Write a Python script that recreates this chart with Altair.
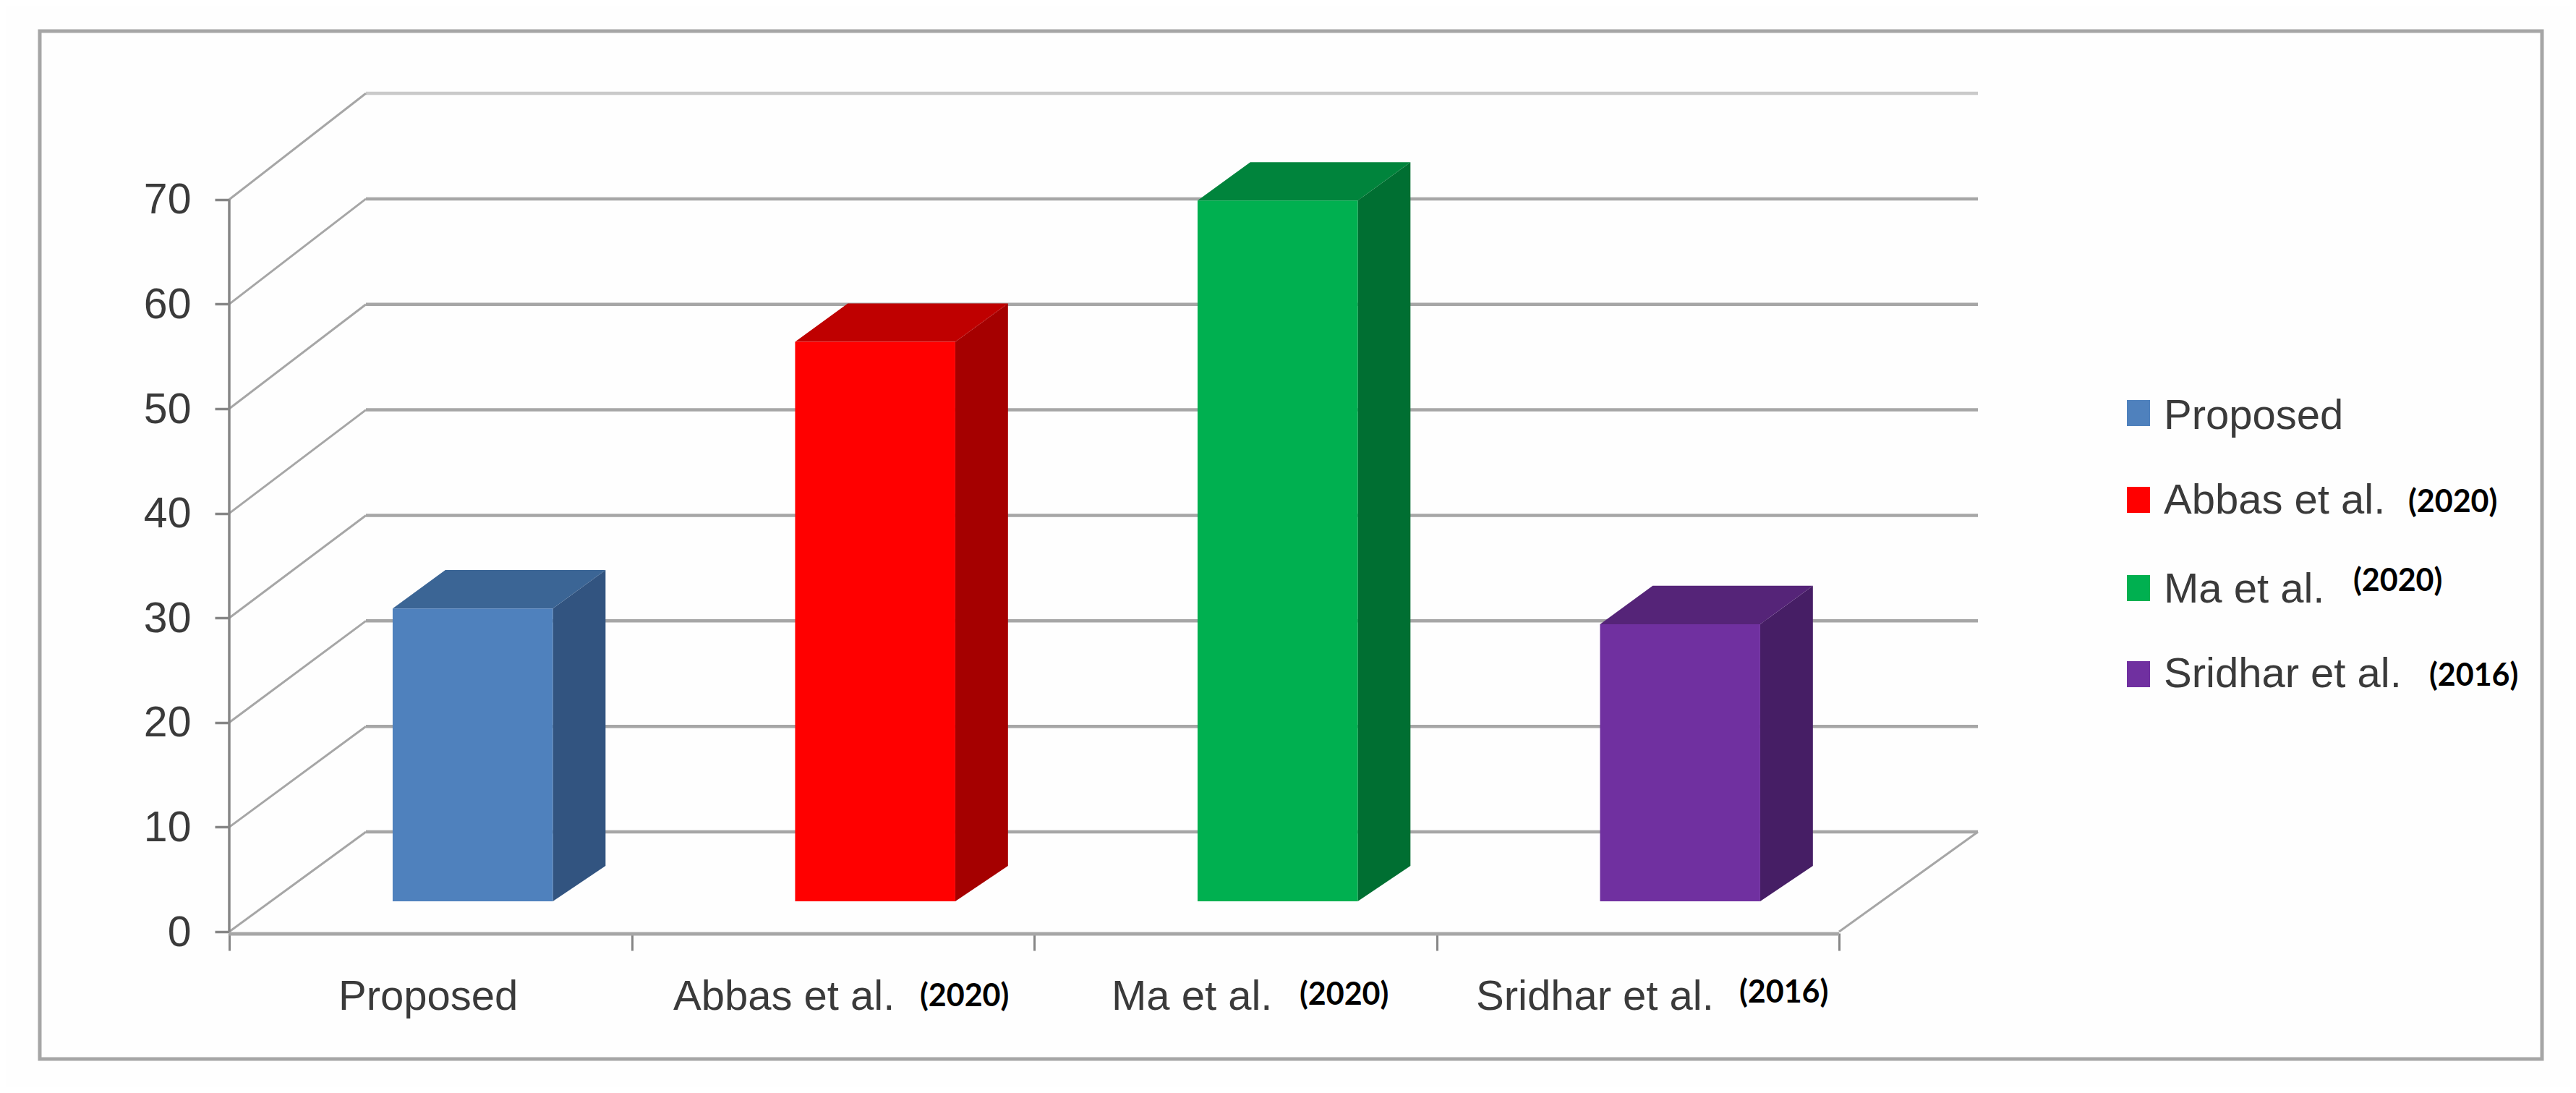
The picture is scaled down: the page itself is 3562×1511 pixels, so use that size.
import altair as alt
import pandas as pd

# ---- values ----
NAMES = ["Proposed", "Abbas et al.", "Ma et al.", "Sridhar et al."]
YEARS = ["", "(2020)", "(2020)", "(2016)"]
VALUES = [28.0, 53.5, 67.0, 26.5]
Y_TICKS = [0, 10, 20, 30, 40, 50, 60, 70]
X_TICKS = [0, 1, 2, 3, 4]

# ---- styles ----
FRONT = ["#4f81bd", "#ff0000", "#00b050", "#7030a0"]
TOP = ["#3b6595", "#bf0000", "#00843c", "#552478"]
SIDE = ["#325480", "#a50000", "#006f32", "#461e65"]
GRID = "#a6a6a6"
AXIS = "#868686"
TEXT = "#3a3a3a"
NAME_FONT = "Liberation Sans"
YEAR_FONT = "Lato"

# ---- layout: page pixels <-> data units ----
X0, PX_PER_CAT = 317, 556.5
Y0, PX_PER_UNIT = 1288, 14.46
W, H = 2418, 1159


def ux(px):
    return (px - X0) / PX_PER_CAT


def uy(px):
    return (Y0 - px) / PX_PER_UNIT


x_scale = alt.Scale(domain=[0, W / PX_PER_CAT], nice=False, zero=False)
y_scale = alt.Scale(domain=[0, H / PX_PER_UNIT], nice=False, zero=False)
x_axis = alt.Axis(values=X_TICKS, labels=False, domain=False, grid=False, tickSize=24,
                  tickColor=AXIS, tickWidth=3, offset=2, title=None)
y_axis = alt.Axis(values=Y_TICKS, domain=False, grid=False, tickSize=20, tickColor=AXIS, tickWidth=3.5,
                  labelFont=NAME_FONT, labelFontSize=59, labelColor=TEXT, labelPadding=33,
                  labelOffset=1, title=None)


def X(f, **k):
    return alt.X(f, type="quantitative", scale=x_scale, axis=x_axis, **k)


def Y(f, **k):
    return alt.Y(f, type="quantitative", scale=y_scale, axis=y_axis, **k)


# perspective of the chart's 3-D box
BACK_X = 189 / PX_PER_CAT
back_y = lambda v: 9.54 + 1.0087 * v
RIGHT_FRONT = 4.0
RIGHT_BACK = W / PX_PER_CAT
BAR_CENTER = 0.605
BAR_WIDTH = 0.398
BAR_LIFT = 2.9
DEPTH_X = 0.131
DEPTH_TOP = 3.67
DEPTH_BASE = 3.4

# ---- frame ----
frame = alt.Chart(pd.DataFrame({"a": [ux(55)], "b": [ux(3515)], "c": [uy(1464)], "d": [uy(43)]})).mark_rect(
    fill=None, stroke=GRID, strokeWidth=5
).encode(x=X("a"), x2="b", y=Y("c"), y2="d")

# ---- walls ----
walls = pd.DataFrame({
    "v": Y_TICKS,
    "bx": [BACK_X] * 8,
    "by": [back_y(v) for v in Y_TICKS],
    "rx": [RIGHT_BACK] * 8,
    "x0": [0.0] * 8,
    "alpha": [0.6 if v == 70 else 1.0 for v in Y_TICKS],
})
diagonals = alt.Chart(walls).mark_rule(stroke=GRID, strokeWidth=3).encode(
    x=X("x0"), x2="bx", y=Y("v"), y2="by"
)
back_lines = alt.Chart(walls).mark_rule(stroke=GRID, strokeWidth=4.5).encode(
    x=X("bx"), x2="rx", y=Y("by"), y2="by", opacity=alt.Opacity("alpha:Q", scale=None)
)
front_y = alt.Chart(pd.DataFrame({"x": [0.0], "a": [0], "b": [70]})).mark_rule(stroke=AXIS, strokeWidth=3.5).encode(
    x=X("x"), y=Y("a"), y2="b"
)
floor_front = alt.Chart(pd.DataFrame({"a": [0.0], "b": [RIGHT_FRONT], "y": [uy(1291)]})).mark_rule(
    stroke=GRID, strokeWidth=5
).encode(x=X("a"), x2="b", y=Y("y"), y2="y")
floor_right = alt.Chart(pd.DataFrame({
    "a": [RIGHT_FRONT], "b": [RIGHT_BACK], "c": [0.0], "d": [back_y(0)]
})).mark_rule(stroke=GRID, strokeWidth=3).encode(x=X("a"), x2="b", y=Y("c"), y2="d")

# ---- bars ----
rows_front, rows_side, rows_top = [], [], []
for i, (name, v) in enumerate(zip(NAMES, VALUES)):
    left = i + BAR_CENTER - BAR_WIDTH / 2
    right = i + BAR_CENTER + BAR_WIDTH / 2
    top = v + BAR_LIFT
    rows_front.append({"name": name, "l": left, "r": right, "b": BAR_LIFT, "t": top, "c": FRONT[i]})
    rows_side.append({"name": name, "x": right, "hi": top, "lo": BAR_LIFT, "c": SIDE[i]})
    rows_side.append({"name": name, "x": right + DEPTH_X, "hi": top + DEPTH_TOP,
                      "lo": BAR_LIFT + DEPTH_BASE, "c": SIDE[i]})
    rows_top.append({"name": name, "l": left, "r": right, "y": top, "c": TOP[i]})
    rows_top.append({"name": name, "l": left + DEPTH_X, "r": right + DEPTH_X, "y": top + DEPTH_TOP, "c": TOP[i]})

fill = alt.Color("c:N", scale=None, legend=None)
sides = alt.Chart(pd.DataFrame(rows_side)).mark_area(orient="vertical", opacity=1).encode(
    x=X("x"), y=Y("hi"), y2="lo", color=fill, detail="name:N"
)
tops = alt.Chart(pd.DataFrame(rows_top)).mark_area(orient="horizontal", opacity=1).encode(
    y=Y("y"), x=X("l"), x2="r", color=fill, detail="name:N"
)
fronts = alt.Chart(pd.DataFrame(rows_front)).mark_rect().encode(
    x=X("l"), x2="r", y=Y("b"), y2="t", color=fill
)

# ---- category labels ----
cat_name_x = [468, 931, 1537, 2041]
cat_year_x = [0, 1272, 1797, 2405]
cat_year_base = [0, 1391, 1389, 1386]
cat_names = pd.DataFrame({"t": NAMES, "x": [ux(p) for p in cat_name_x], "y": [uy(1396)] * 4})
cat_years = pd.DataFrame({"t": YEARS, "x": [ux(p) for p in cat_year_x], "y": [uy(p) for p in cat_year_base]})
cat_years = cat_years[cat_years["t"] != ""]
name_text = dict(align="left", baseline="alphabetic", font=NAME_FONT, fontSize=58, color=TEXT)
year_text = dict(align="left", baseline="alphabetic", font=YEAR_FONT, fontWeight="bold", fontSize=43, color="#000000")
cat_name_marks = alt.Chart(cat_names).mark_text(**name_text).encode(x=X("x"), y=Y("y"), text="t:N")
cat_year_marks = alt.Chart(cat_years).mark_text(**year_text).encode(x=X("x"), y=Y("y"), text="t:N")

# ---- legend ----
leg_center = [571, 691, 813, 932]
leg_base = [593, 710, 833, 950]
leg_year_x = [0, 3330, 3254, 3359]
leg_year_base = [0, 708, 817, 948]
leg_swatch = pd.DataFrame({
    "l": [ux(2941)] * 4, "r": [ux(2973)] * 4,
    "b": [uy(p + 18) for p in leg_center], "t": [uy(p - 18) for p in leg_center], "c": FRONT,
})
swatches = alt.Chart(leg_swatch).mark_rect().encode(x=X("l"), x2="r", y=Y("b"), y2="t", color=fill)
leg_names = pd.DataFrame({"t": NAMES, "x": [ux(2992)] * 4, "y": [uy(p) for p in leg_base]})
leg_years = pd.DataFrame({"t": YEARS, "x": [ux(p) for p in leg_year_x], "y": [uy(p) for p in leg_year_base]})
leg_years = leg_years[leg_years["t"] != ""]
leg_name_marks = alt.Chart(leg_names).mark_text(**name_text).encode(x=X("x"), y=Y("y"), text="t:N")
leg_year_marks = alt.Chart(leg_years).mark_text(**year_text).encode(x=X("x"), y=Y("y"), text="t:N")

chart = alt.layer(
    frame, diagonals, back_lines, floor_right, front_y, floor_front,
    sides, tops, fronts,
    cat_name_marks, cat_year_marks, swatches, leg_name_marks, leg_year_marks,
).properties(
    width=W, height=H,
    autosize=alt.AutoSizeParams(type="none"),
    padding={"left": X0 - 8, "top": 129 - 8, "right": 819, "bottom": 215},
    background="#fefefe",
).configure_view(stroke=None)

chart.save("out.html", embed_options={"renderer": "svg", "actions": False})
